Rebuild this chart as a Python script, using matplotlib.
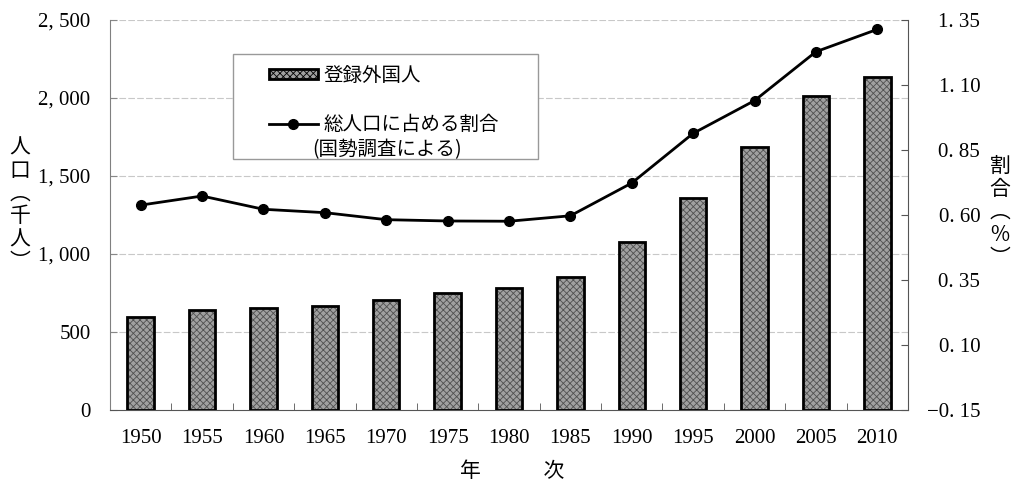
import numpy as np
import matplotlib
matplotlib.use('Agg')
import matplotlib.pyplot as plt
from matplotlib.patches import Patch, Rectangle
from matplotlib.lines import Line2D

plt.rcParams['font.family'] = ['Noto Sans CJK JP', 'DejaVu Sans']
plt.rcParams['hatch.linewidth'] = 0.6

#data
years = ['1950', '1955', '1960', '1965', '1970', '1975', '1980', '1985', '1990', '1995', '2000', '2005', '2010']
foreigners = [599, 641, 651, 666, 708, 752, 783, 851, 1075, 1362, 1686, 2012, 2134]  # 千人
ratio = [0.638, 0.673, 0.622, 0.609, 0.582, 0.577, 0.576, 0.597, 0.723, 0.914, 1.040, 1.228, 1.314]  # %

left_ticks = [0, 500, 1000, 1500, 2000, 2500]
left_labels = ['0', '500', '1, 000', '1, 500', '2, 000', '2, 500']
right_ticks = [-0.15, 0.10, 0.35, 0.60, 0.85, 1.10, 1.35]
right_labels = ['\u22120. 15', '0. 10', '0. 35', '0. 60', '0. 85', '1. 10', '1. 35']

num_font = 'Liberation Serif'

fig = plt.figure(figsize=(10.19, 4.82), dpi=100)
ax = fig.add_axes([110/1019, 1-410/482, 798/1019, 390/482])
x = np.arange(len(years))

# bars: pattern first, then black outline
ax.bar(x, foreigners, width=0.43, color='#a0a0a0', hatch='xxxxx', edgecolor='#505050', linewidth=0, zorder=2)
ax.bar(x, foreigners, width=0.43, fill=False, edgecolor='black', linewidth=2, zorder=3)

ax.set_xlim(-0.5, len(years)-0.5)
ax.set_ylim(0, 2500)
ax.set_yticks(left_ticks)
ax.set_yticklabels(left_labels, family=num_font, fontsize=15)
ax.set_xticks(x)
ax.set_xticklabels(years, family=num_font, fontsize=15)
ax.set_xticks(np.arange(0.5, len(years)-1, 1), minor=True)
ax.tick_params(axis='x', which='major', length=0, pad=14)
ax.tick_params(axis='x', which='minor', direction='in', length=5, color='#555555')
ax.tick_params(axis='y', direction='in', length=5, color='#888888', pad=14)
for v in left_ticks[1:]:
    ax.axhline(v, color='#c8c8c8', linestyle=(0, (6, 2)), linewidth=0.8, zorder=1)
ax.spines['top'].set_visible(False)
ax.spines['right'].set_visible(False)
ax.spines['left'].set_color('#808080')
ax.spines['bottom'].set_color('#555555')

ax2 = ax.twinx()
ax2.plot(x, ratio, color='black', linewidth=2, marker='o', markersize=7, zorder=5)
ax2.set_ylim(-0.15, 1.35)
ax2.set_yticks(right_ticks)
ax2.set_yticklabels(right_labels, family=num_font, fontsize=15, ha='right')
ax2.tick_params(axis='y', direction='in', length=5, color='#555555', pad=52)
ax2.spines['top'].set_visible(False)
ax2.spines['left'].set_visible(False)
ax2.spines['bottom'].set_visible(False)
ax2.spines['right'].set_color('#555555')

# axis labels (vertical)
fig.text(20/1019, 1-205/482, '人\n口\n︵\n千\n人\n︶', fontsize=15, ha='center', va='center', linespacing=1.05)
fig.text(1000/1019, 1-212/482, '割\n合\n︵\n%\n︶', fontsize=15, ha='center', va='center', linespacing=1.05)
fig.text(512/1019, 1-471/482, '年　　　次', fontsize=15, ha='center', va='center')

# legend frame + legend
ax2.add_patch(Rectangle((123/798, 251/390), 305/798, 105/390, transform=ax2.transAxes,
                        fill=True, facecolor='white', edgecolor='#999999', linewidth=1, zorder=6))
handles = [Patch(facecolor='#a0a0a0', hatch='xxxxx', edgecolor='black', linewidth=2),
           Line2D([], [], color='black', linewidth=2, marker='o', markersize=7)]
labels = ['登録外国人', '総人口に占める割合']
leg = ax2.legend(handles, labels, loc='upper left', bbox_to_anchor=(159/798, 345/390),
                 fontsize=14, frameon=False,
                 handlelength=2.5, handleheight=0.45, labelspacing=1.45, borderpad=0,
                 borderaxespad=0, handletextpad=0.3)
leg.set_zorder(7)
ax2.text((312-110)/798, (410-150)/390, '(国勢調査による)', transform=ax2.transAxes, fontsize=14,
         ha='left', va='center', zorder=8)

plt.savefig('out.png', dpi=100)
